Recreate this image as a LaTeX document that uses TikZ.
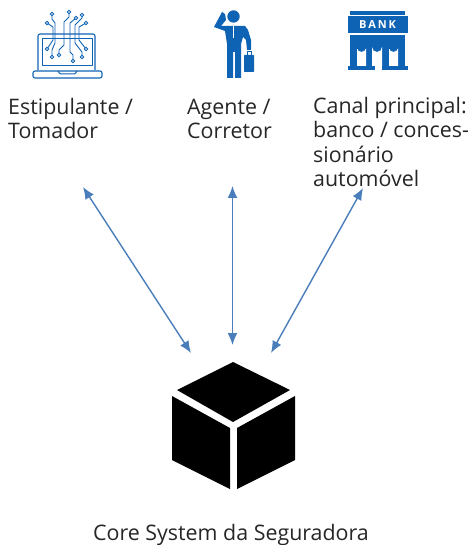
\documentclass[tikz,border=0pt]{standalone}
\usepackage{fontspec}
\setmainfont{Open Sans}
\usetikzlibrary{arrows.meta}
\definecolor{iconblue}{HTML}{0F63B4}
\definecolor{arrowblue}{HTML}{4A7EBB}
\tikzset{
  label/.style={inner sep=0pt,font=\fontsize{21.4}{24.5}\selectfont,text=black!85,align=left},
  link/.style={draw=arrowblue,line width=1.4pt,{Latex[length=12pt,width=10pt]}-{Latex[length=12pt,width=10pt]}},
  line/.style={draw=iconblue,line width=1pt,line join=round},
  wire/.style={draw=iconblue,line width=.9pt,line join=round},
  pad/.style={draw=iconblue,line width=.9pt,fill=white,circle,inner sep=0pt,minimum size=3.6pt},
}
\begin{document}
\begin{tikzpicture}[x=1pt,y=-1pt]
\useasboundingbox (0,0) rectangle (471,545);
% laptop
\draw[line,line width=1.1pt,rounded corners=2pt] (38,70) -- (38,34) -- (95,34) -- (95,70);
\draw[line] (42,39) rectangle (92,66);
\draw[line,line width=1.1pt,rounded corners=2pt] (33,71) -- (102,71) -- (102,78) -- (33,78) -- cycle;
\draw[line,rounded corners=1pt] (58,71) -- (60,74) -- (75,74) -- (77,71);
\foreach \p in {
 {(52,14) -- (52,19) -- (55,23) -- (55,43) -- (52,50) -- (52,57)},
 {(47,23) -- (53,27) -- (53,40) -- (47,49)},
 {(69,12) -- (69,17) -- (64,22) -- (64,45) -- (59,50) -- (59,55)},
 {(76,18) -- (70,23) -- (70,52) -- (73,55) -- (73,61)},
 {(82,15) -- (82,18) -- (75,25) -- (75,43) -- (82,52) -- (82,57)},
 {(86,23) -- (79,27) -- (79,40) -- (86,49)}} {\draw[wire] \p;}
\foreach \q in {(52,14),(47,23),(69,12),(76,18),(82,15),(86,23),(47,49),(52,57),(59,55),(73,61),(82,57),(86,49)}
  \node[pad] at \q {};
% businessman
\fill[iconblue] (233.5,16.5) circle (6.2);
\fill[iconblue] (222,12) -- (225,14) -- (226,20) -- (221,26) -- (226,26) -- (245,26) -- (248,30) -- (251,40) -- (251,50) -- (247,50) -- (246,40) -- (243,37) -- (241,44) -- (241,78) -- (235,78) -- (235,52) -- (233,52) -- (233,78) -- (227,78) -- (227,44) -- (225,31) -- (214,27) -- cycle;
\draw[white,line width=.6pt] (233,26) -- (233,38);
\fill[iconblue,rounded corners=.7pt] (244,55) rectangle (254,72);
\draw[iconblue,line width=.8pt] (247,55) -- (247,51) -- (251,51) -- (251,55);
% bank
\fill[iconblue] (350,11) rectangle (405,15);
\fill[iconblue] (348,16) rectangle (408,33);
\node[inner sep=0pt,text=white,font=\fontsize{11}{11}\selectfont\bfseries] (banklabel) at (377.5,24.5) {B\,A\,N\,K};
\fill[iconblue] (350,35) rectangle (405,66);
\fill[white] (357,66) -- (357,47.5) arc (180:0:4.5) -- (366,66) -- cycle;
\fill[white] (372,66) -- (372,47) arc (180:0:5) -- (382,66) -- cycle;
\fill[white] (389,66) -- (389,47.5) arc (180:0:4.5) -- (398,66) -- cycle;
\fill[iconblue] (357,47.5) rectangle (366,49.5);
\fill[iconblue] (389,47.5) rectangle (398,49.5);
\fill[iconblue] (348,66) rectangle (375,70);
\fill[iconblue] (382,66) rectangle (408,70);
% labels
\node[label,anchor=base west] (est) at (8,139) {Estipulante /\\Tomador};
\node[label,anchor=base west] (age) at (187,139) {Agente /\\Corretor};
\node[label,anchor=base west] (can) at (313,187) {Canal principal:\\banco / conces-\\sionário\\automóvel};
\node[label,anchor=base,align=center] (core) at (231,540) {Core System da Seguradora};
% cube
\fill (233,362) -- (290,390) -- (233,422) -- (177,390) -- cycle;
\fill (172,396) -- (230,428) -- (230,489) -- (172,460) -- cycle;
\fill (295,396) -- (237,428) -- (237,489) -- (295,460) -- cycle;
\coordinate (cubeA) at (191,353);
\coordinate (cubeB) at (232.5,345);
\coordinate (cubeC) at (271,353);
\coordinate (topA) at (83,187);
\coordinate (topB) at (232.5,186);
\coordinate (topC) at (363,188);
\draw[link] (topA) -- (cubeA);
\draw[link] (topB) -- (cubeB);
\draw[link] (topC) -- (cubeC);
\end{tikzpicture}
\end{document}
